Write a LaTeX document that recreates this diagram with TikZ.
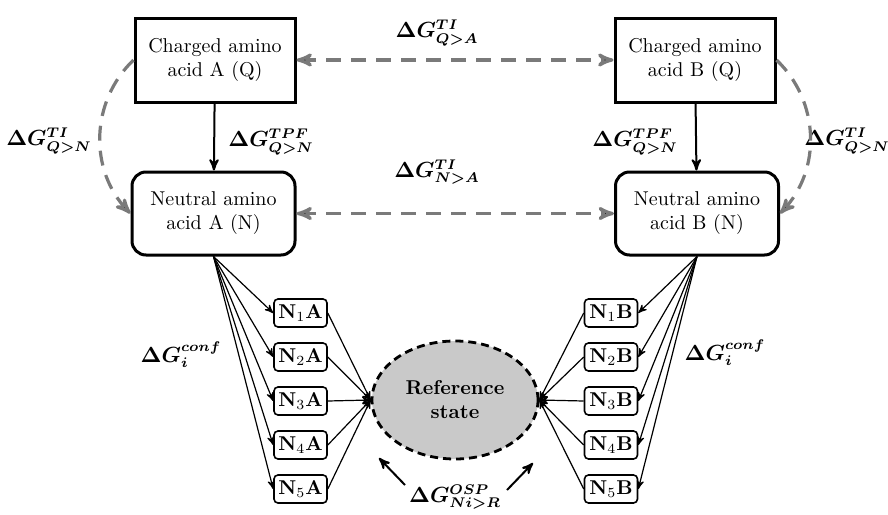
\documentclass[tikz,border=0pt]{standalone}
\usepackage{amsmath}
\usepackage{bm}
\usepackage{tikz}
\usetikzlibrary{arrows}
\usetikzlibrary{positioning,shapes}
\definecolor{tigray}{HTML}{7A7A7A}
\definecolor{refgray}{HTML}{C9C9C9}
\newcommand{\dG}[2]{\ensuremath{\bm{\Delta G^{#1}_{#2}}}}

\begin{document}
\begin{tikzpicture}[x=0.5pt,y=-0.5pt,node distance=22pt,on grid,>=stealth',
		charged/.style={rectangle,draw=black,line width=1.5pt,minimum width=80pt,minimum height=42pt,align=center,inner sep=2pt},
		neutral/.style={charged,rounded corners=7pt,minimum width=81.5pt,minimum height=41.5pt},
		conf/.style={rectangle,draw=black,rounded corners=2pt,line width=0.8pt,minimum width=26.5pt,minimum height=14pt,inner sep=1pt,font=\bfseries},
		refstate/.style={ellipse,draw=black,dash pattern=on 4pt off 2.5pt,line width=1.4pt,fill=refgray,minimum width=83pt,minimum height=59pt,align=center,font=\bfseries},
		tiarrow/.style={draw=tigray,dash pattern=on 7.5pt off 5pt,line width=1.6pt},
		lbl/.style={font=\fontsize{10.5}{12}\selectfont,inner sep=1pt}]
		\useasboundingbox (0,0) rectangle (888,514);

		\node[charged] (chA) at (215,60)   {Charged amino\\acid A (Q)};
		\node[neutral] (naA) at (213.5,213.5) {Neutral amino\\acid A (N)};
		\node[charged] (chB) at (695,60)   {Charged amino\\acid B (Q)};
		\node[neutral] (naB) at (697,213.5) {Neutral amino\\acid B (N)};

		\node[conf] (n1a) at (300.5,313) {N$_1$A};
		\node[conf] (n2a) [below=of n1a] {N$_2$A};
		\node[conf] (n3a) [below=of n2a] {N$_3$A};
		\node[conf] (n4a) [below=of n3a] {N$_4$A};
		\node[conf] (n5a) [below=of n4a] {N$_5$A};
		\node[conf] (n1b) at (611,313)   {N$_1$B};
		\node[conf] (n2b) [below=of n1b] {N$_2$B};
		\node[conf] (n3b) [below=of n2b] {N$_3$B};
		\node[conf] (n4b) [below=of n3b] {N$_4$B};
		\node[conf] (n5b) [below=of n4b] {N$_5$B};

		\node[refstate] (ref) at (455,400) {Reference\\state};

		\node[lbl] (tiqa)  at (437,33)  {\dG{TI}{Q>A}};
		\node[lbl] (tina)  at (437,172) {\dG{TI}{N>A}};
		\node[lbl] (tpfa)  at (271,142) {\dG{TPF}{Q>N}};
		\node[lbl] (tpfb)  at (635,142) {\dG{TPF}{Q>N}};
		\node[lbl] (tiqna) at (49,141)  {\dG{TI}{Q>N}};
		\node[lbl] (tiqnb) at (847,141) {\dG{TI}{Q>N}};
		\node[lbl] (confa) at (181,355) {\dG{conf}{i}};
		\node[lbl] (confb) at (725,353) {\dG{conf}{i}};
		\node[lbl] (osp)   at (455,497) {\dG{OSP}{Ni>R}};

		\coordinate (ospl0) at (405,485);
		\coordinate (ospl1) at (379,458);
		\coordinate (ospr0) at (507,490);
		\coordinate (ospr1) at (533,463);

		% thermodynamic integration paths
		\path[tiarrow]
		(chA.east) edge[<->] (chB.west)
		(naA.east) edge[<->] (naB.west)
		(chA.west) edge[->,bend right=45] (naA.west)
		(chB.east) edge[->,bend left=45] (naB.east);

		\path[->,line width=1pt]
		(chA) edge (naA)
		(chB) edge (naB)
		(ospl0) edge (ospl1)
		(ospr0) edge (ospr1);

		% conformers
		\foreach \i in {1,...,5}{
			\draw[->,line width=0.6pt] (naA.south) -- (n\i a.west);
			\draw[->,line width=0.6pt] (n\i a.east) -- (ref.west);
			\draw[->,line width=0.6pt] (naB.south) -- (n\i b.east);
			\draw[->,line width=0.6pt] (n\i b.west) -- (ref.east);
		}
\end{tikzpicture}
\end{document}
